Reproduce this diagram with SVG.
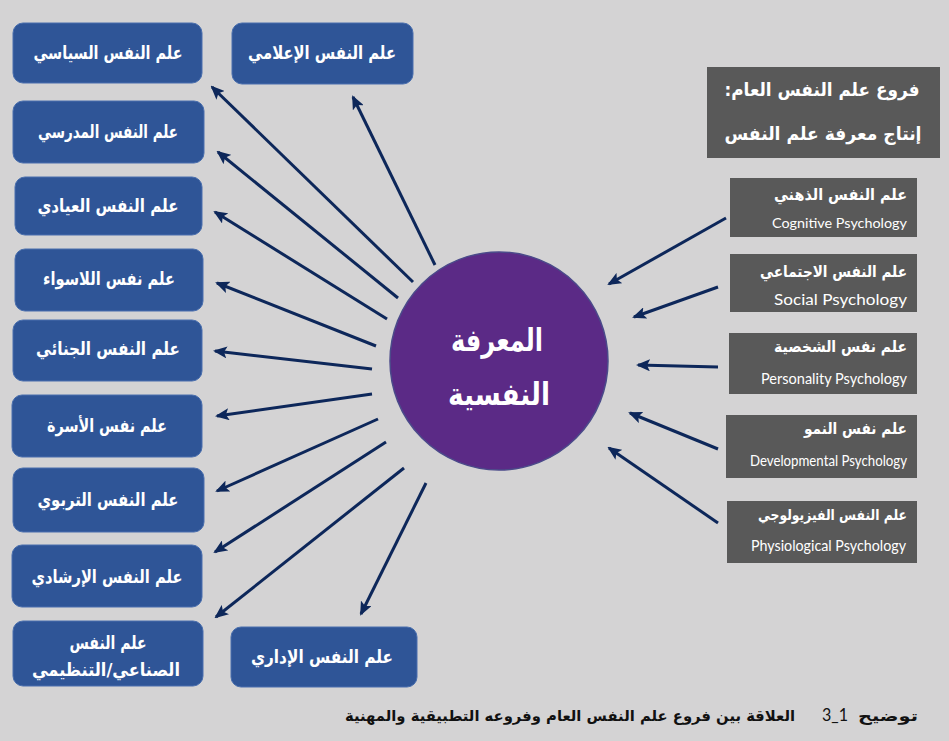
<svg xmlns="http://www.w3.org/2000/svg" width="949" height="741" viewBox="0 0 949 741">
<defs>
<style>
.bg{fill:#d4d3d4}
.bb{fill:#2f5597;stroke:#4a6fae;stroke-width:1}
.gb{fill:#595959}
.bt{font-family:"DejaVu Sans",sans-serif;font-weight:bold;font-size:18px;fill:#fff;text-anchor:middle}
.ar{font-family:"DejaVu Sans",sans-serif;font-weight:bold;font-size:16px;fill:#fff;text-anchor:end}
.en{font-family:Lato,"Open Sans",sans-serif;font-size:15px;fill:#fff;text-anchor:end}
.tt{font-family:"DejaVu Sans",sans-serif;font-weight:bold;font-size:18px;fill:#fff;text-anchor:middle}
.ct{font-family:"DejaVu Sans",sans-serif;font-weight:bold;font-size:31px;fill:#fff;text-anchor:middle}
.cap{font-family:"DejaVu Sans",sans-serif;font-weight:bold;font-size:15px;fill:#111;text-anchor:end}
.num{font-family:Lato,"Liberation Sans",sans-serif;font-size:18px;fill:#111;text-anchor:start}
.ln{stroke:#0d275a;stroke-width:3;fill:none;marker-end:url(#ah)}
</style>
<marker id="ah" markerUnits="userSpaceOnUse" viewBox="0 0 14 12" markerWidth="14" markerHeight="12" refX="12" refY="6" orient="auto">
<path d="M0,0 L14,6 L0,12 L3,6 z" fill="#0d275a"/>
</marker>
</defs>
<rect class="bg" x="0" y="0" width="949" height="741"/>

<g id="connectors">
<line class="ln" x1="435" y1="265" x2="353" y2="97"/>
<line class="ln" x1="413" y1="282" x2="212" y2="87"/>
<line class="ln" x1="398" y1="298" x2="218" y2="152"/>
<line class="ln" x1="387" y1="319" x2="215" y2="212"/>
<line class="ln" x1="376" y1="346" x2="217" y2="283"/>
<line class="ln" x1="372" y1="369" x2="215" y2="351"/>
<line class="ln" x1="372" y1="394" x2="217" y2="416"/>
<line class="ln" x1="378" y1="419" x2="217" y2="491"/>
<line class="ln" x1="386" y1="442" x2="215" y2="552"/>
<line class="ln" x1="404" y1="468" x2="216" y2="617"/>
<line class="ln" x1="426" y1="483" x2="361" y2="614"/>
<line class="ln" x1="726" y1="218" x2="609" y2="284"/>
<line class="ln" x1="718" y1="287" x2="634" y2="317"/>
<line class="ln" x1="718" y1="367" x2="638" y2="365"/>
<line class="ln" x1="718" y1="449" x2="630" y2="413"/>
<line class="ln" x1="718" y1="523" x2="609" y2="448"/>
</g>

<g id="center">
<circle cx="499" cy="361" r="109" fill="#5b2a86" stroke="#4b4a8a" stroke-width="1.5"/>
<text class="ct" x="497" y="351" textLength="92" lengthAdjust="spacingAndGlyphs">المعرفة</text>
<text class="ct" x="499" y="405" textLength="102" lengthAdjust="spacingAndGlyphs">النفسية</text>
</g>

<g id="n-siyasi"><rect class="bb" x="13" y="23" width="189" height="60" rx="10"/><text class="bt" x="108" y="59" textLength="149" lengthAdjust="spacingAndGlyphs">علم النفس السياسي</text></g>
<g id="n-ielami"><rect class="bb" x="232" y="23" width="181" height="61" rx="10"/><text class="bt" x="322" y="59" textLength="148" lengthAdjust="spacingAndGlyphs">علم النفس الإعلامي</text></g>
<g id="n-madrasi"><rect class="bb" x="13" y="101" width="191" height="62" rx="10"/><text class="bt" x="108" y="138" textLength="140" lengthAdjust="spacingAndGlyphs">علم النفس المدرسي</text></g>
<g id="n-iyadi"><rect class="bb" x="15" y="177" width="187" height="58" rx="10"/><text class="bt" x="108" y="212" textLength="141" lengthAdjust="spacingAndGlyphs">علم النفس العيادي</text></g>
<g id="n-laswa"><rect class="bb" x="15" y="249" width="188" height="62" rx="10"/><text class="bt" x="109" y="285" textLength="132" lengthAdjust="spacingAndGlyphs">علم نفس اللاسواء</text></g>
<g id="n-jinai"><rect class="bb" x="13" y="320" width="189" height="61" rx="10"/><text class="bt" x="108" y="355" textLength="144" lengthAdjust="spacingAndGlyphs">علم النفس الجنائي</text></g>
<g id="n-usra"><rect class="bb" x="12" y="395" width="190" height="62" rx="10"/><text class="bt" x="107" y="432" textLength="120" lengthAdjust="spacingAndGlyphs">علم نفس الأسرة</text></g>
<g id="n-tarbawi"><rect class="bb" x="13" y="468" width="191" height="64" rx="10"/><text class="bt" x="108" y="506" textLength="141" lengthAdjust="spacingAndGlyphs">علم النفس التربوي</text></g>
<g id="n-irshadi"><rect class="bb" x="12" y="545" width="190" height="62" rx="10"/><text class="bt" x="107" y="583" textLength="151" lengthAdjust="spacingAndGlyphs">علم النفس الإرشادي</text></g>
<g id="n-sinai"><rect class="bb" x="13" y="621" width="190" height="65" rx="10"/><text class="bt" x="108" y="649" textLength="77" lengthAdjust="spacingAndGlyphs">علم النفس</text><text class="bt" x="106" y="676" textLength="148" lengthAdjust="spacingAndGlyphs">الصناعي/التنظيمي</text></g>
<g id="n-idari"><rect class="bb" x="231" y="627" width="186" height="60" rx="10"/><text class="bt" x="322" y="663" textLength="142" lengthAdjust="spacingAndGlyphs">علم النفس الإداري</text></g>

<g id="title"><rect class="gb" x="707" y="67" width="233" height="91"/><text class="tt" direction="rtl" x="822" y="96" textLength="195" lengthAdjust="spacingAndGlyphs">فروع علم النفس العام:&#x200F;</text><text class="tt" x="823" y="140" textLength="197" lengthAdjust="spacingAndGlyphs">إنتاج معرفة علم النفس</text></g>
<g id="r-cognitive"><rect class="gb" x="730" y="178" width="187" height="59"/><text class="ar" x="907" y="200" textLength="133" lengthAdjust="spacingAndGlyphs">علم النفس الذهني</text><text class="en" x="907" y="228" style="font-size:14px" textLength="135" lengthAdjust="spacingAndGlyphs">Cognitive Psychology</text></g>
<g id="r-social"><rect class="gb" x="730" y="254" width="187" height="58"/><text class="ar" x="907" y="277" textLength="147" lengthAdjust="spacingAndGlyphs">علم النفس الاجتماعي</text><text class="en" x="907" y="305" style="font-size:16px" textLength="133" lengthAdjust="spacingAndGlyphs">Social Psychology</text></g>
<g id="r-personality"><rect class="gb" x="729" y="333" width="188" height="61"/><text class="ar" x="907" y="352" textLength="133" lengthAdjust="spacingAndGlyphs">علم نفس الشخصية</text><text class="en" x="907" y="384" textLength="146" lengthAdjust="spacingAndGlyphs">Personality Psychology</text></g>
<g id="r-developmental"><rect class="gb" x="726" y="415" width="191" height="63"/><text class="ar" x="907" y="434" textLength="103" lengthAdjust="spacingAndGlyphs">علم نفس النمو</text><text class="en" x="907" y="466" textLength="157" lengthAdjust="spacingAndGlyphs">Developmental Psychology</text></g>
<g id="r-physiological"><rect class="gb" x="727" y="501" width="190" height="62"/><text class="ar" x="907" y="520" style="font-size:15px" textLength="149" lengthAdjust="spacingAndGlyphs">علم النفس الفيزيولوجي</text><text class="en" x="906" y="551" textLength="155" lengthAdjust="spacingAndGlyphs">Physiological Psychology</text></g>

<g id="caption">
<text class="cap" x="918" y="721" textLength="60" lengthAdjust="spacingAndGlyphs">توضيح</text>
<text class="num" x="822" y="721" textLength="26" lengthAdjust="spacingAndGlyphs">3_1</text>
<text class="cap" x="795" y="721" textLength="450" lengthAdjust="spacingAndGlyphs">العلاقة بين فروع علم النفس العام وفروعه التطبيقية والمهنية</text>
</g>
</svg>
